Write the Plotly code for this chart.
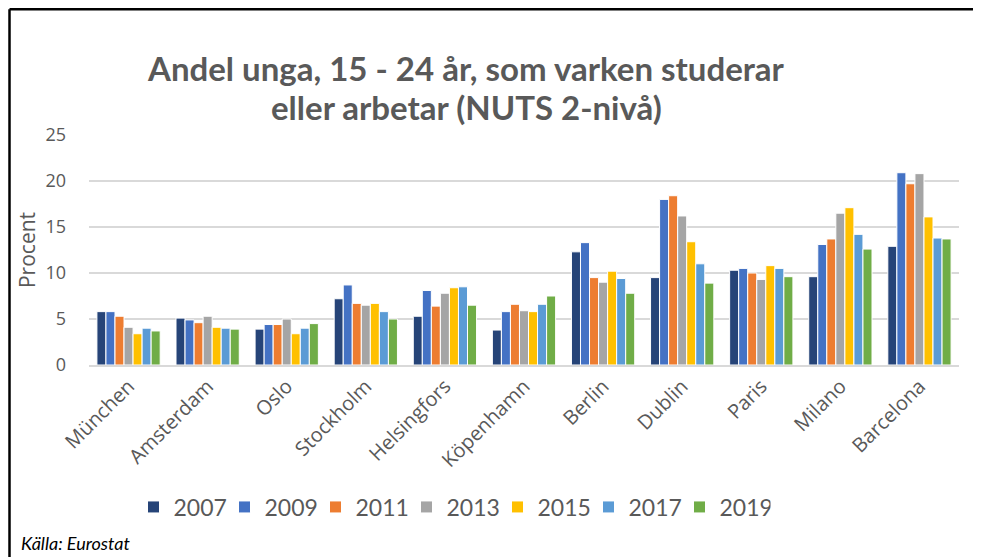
import plotly.graph_objects as go

cities = ["München", "Amsterdam", "Oslo", "Stockholm", "Helsingfors", "Köpenhamn",
          "Berlin", "Dublin", "Paris", "Milano", "Barcelona"]
years = ["2007", "2009", "2011", "2013", "2015", "2017", "2019"]

v2007 = [5.8, 5.1, 3.9, 7.2, 5.3, 3.8, 12.3, 9.5, 10.3, 9.6, 12.9]
v2009 = [5.8, 4.9, 4.4, 8.7, 8.1, 5.8, 13.3, 18.0, 10.5, 13.1, 20.9]
v2011 = [5.3, 4.6, 4.4, 6.7, 6.4, 6.6, 9.5, 18.4, 10.0, 13.7, 19.7]
v2013 = [4.1, 5.3, 5.0, 6.5, 7.8, 5.9, 9.0, 16.2, 9.3, 16.5, 20.8]
v2015 = [3.4, 4.1, 3.4, 6.7, 8.4, 5.8, 10.2, 13.4, 10.8, 17.1, 16.1]
v2017 = [4.0, 4.0, 4.0, 5.8, 8.5, 6.6, 9.4, 11.0, 10.5, 14.2, 13.8]
v2019 = [3.7, 3.9, 4.5, 5.0, 6.5, 7.5, 7.8, 8.9, 9.6, 12.6, 13.7]

series = [v2007, v2009, v2011, v2013, v2015, v2017, v2019]
colors = ["#264478", "#4472C4", "#ED7D31", "#A5A5A5", "#FFC000", "#5B9BD5", "#70AD47"]

# page is offset by the 8px body margin
OFF = 8
W, H = 981 - OFF, 557 - OFF
PL, PR, PT, PB = 89, 959, 135, 365  # plot area in page pixels
L, R, T, B = PL - OFF, W - (PR - OFF), PT - OFF, H - (PB - OFF)
PW, PH = PR - PL, PB - PT

def px(x):
    return (x - PL) / PW

def py(y):
    return (PB - y) / PH

fig = go.Figure()
for name, vals, c in zip(years, series, colors):
    fig.add_trace(go.Bar(
        x=cities, y=vals, name=name,
        marker=dict(color=c, line=dict(color="white", width=1)),
    ))

grey = "#595959"
fig.update_layout(
    width=W, height=H,
    margin=dict(l=L, r=R, t=T, b=B),
    paper_bgcolor="white", plot_bgcolor="white",
    barmode="group", bargap=0.2, bargroupgap=0.0,
    font=dict(family="Open Sans, sans-serif", color=grey),
    showlegend=True,
    legend=dict(
        orientation="h", x=px(452), xanchor="center", y=py(507), yanchor="middle",
        font=dict(family="Lato, sans-serif", size=23, color=grey),
        entrywidth=46, entrywidthmode="pixels", itemwidth=30,
        traceorder="normal",
    ),
    xaxis=dict(
        tickangle=-45, tickfont=dict(size=20, color=grey),
        showline=True, linecolor="#D9D9D9", linewidth=1.5,
        ticks="", showgrid=False,
    ),
    yaxis=dict(
        range=[0, 25], dtick=5, tickfont=dict(size=18, color=grey),
        showgrid=True, gridcolor="#D9D9D9", gridwidth=1.5,
        zeroline=False, ticks="", ticklabelstandoff=22,
        title=dict(text="Procent", font=dict(size=21, color=grey), standoff=4),
    ),
    annotations=[
        dict(text="<b>Andel unga, 15 - 24 år, som varken studerar</b>",
             x=px(466), y=py(68), xref="paper", yref="paper", showarrow=False,
             xanchor="center", yanchor="middle",
             font=dict(family="Lato, sans-serif", size=33, color=grey)),
        dict(text="<b>eller arbetar (NUTS 2-nivå)</b>",
             x=px(466), y=py(107), xref="paper", yref="paper", showarrow=False,
             xanchor="center", yanchor="middle",
             font=dict(family="Lato, sans-serif", size=33, color=grey)),
        dict(text="<i>Källa: Eurostat</i>",
             x=px(19), y=py(543), xref="paper", yref="paper", showarrow=False,
             xanchor="left", yanchor="middle",
             font=dict(family="Lato, sans-serif", size=18, color="black")),
    ],
    shapes=[
        dict(type="line", xref="paper", yref="paper", x0=px(9.5), x1=px(985), y0=py(9.2), y1=py(9.2),
             line=dict(color="black", width=2.5)),
        dict(type="line", xref="paper", yref="paper", x0=px(9.5), x1=px(9.5), y0=py(9.2), y1=py(560),
             line=dict(color="black", width=2.5)),
    ],
)

fig.write_html("out.html")
